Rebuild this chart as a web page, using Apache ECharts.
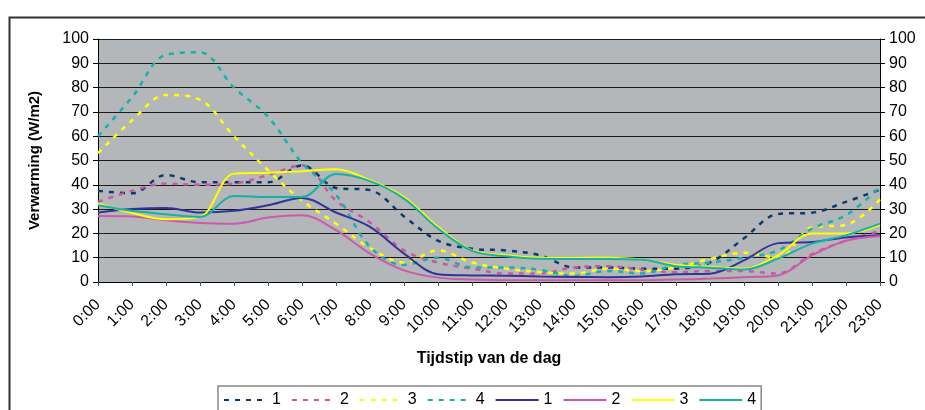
<!DOCTYPE html>
<html>
<head>
<meta charset="utf-8">
<script src="https://cdn.jsdelivr.net/npm/echarts@6/dist/echarts.min.js"></script>
<style>
  html, body { margin: 0; padding: 0; background: #fff; }
  #chart { width: 925px; height: 410px; }
</style>
</head>
<body>
<div id="chart"></div>
<script>
  // uren van de dag
  const hours = ["0:00", "1:00", "2:00", "3:00", "4:00", "5:00", "6:00", "7:00", "8:00", "9:00", "10:00", "11:00",
    "12:00", "13:00", "14:00", "15:00", "16:00", "17:00", "18:00", "19:00", "20:00", "21:00", "22:00", "23:00"];

  // gestippelde reeksen
  const dashed1 = [37.5, 36.5, 44, 41, 41, 41, 48, 38.7, 37.8, 27, 17, 13.7, 13, 11, 6, 6, 5.5, 5.5, 8, 18, 28, 28.5, 33, 38];
  const dashed2 = [33, 37.5, 40.5, 40, 40.5, 44, 48, 33.5, 24.5, 13, 8, 5.5, 3.5, 3.5, 6, 6.5, 5, 4, 4.5, 4.5, 3.5, 11.5, 17, 21];
  const dashed3 = [53, 66.5, 77, 75, 60, 46, 33.5, 24, 14, 8, 13, 8, 5.5, 4, 3.5, 5.5, 4.5, 6, 9.5, 12, 10, 22.5, 23.5, 34];
  const dashed4 = [60, 76, 93.5, 94.5, 80, 68, 49, 36, 14.5, 7, 10, 6, 6, 5, 2.5, 4.5, 3.5, 7, 8, 10, 13, 22, 27.5, 39];

  // doorgetrokken reeksen
  const solid1 = [28.6, 30, 30.5, 28.6, 29.3, 31.6, 34.6, 28.6, 22.7, 11.7, 3.2, 2.7, 2.6, 2.3, 2.1, 2, 2.3, 3.2, 3.4, 8.9, 16, 16.5, 18.3, 19.2];
  const solid2 = [27.2, 27, 25.4, 24.3, 24, 26.5, 27.5, 21.3, 11.7, 4.8, 1.8, 1, 0.7, 0.7, 0.7, 0.7, 0.7, 1, 1.4, 2, 2.7, 11, 17, 18.8];
  const solid3 = [32.3, 28.4, 25.8, 26.8, 44.6, 45, 45.6, 46.4, 41.9, 35, 22.7, 13, 11, 10, 9.9, 10, 9.2, 7.1, 6.2, 5.5, 11, 20, 20, 23.4];
  const solid4 = [31.6, 29.3, 27.9, 26.8, 35.4, 35, 35, 44.4, 41.5, 34.3, 22, 12.8, 10.6, 9.6, 9.5, 9.5, 9.2, 6.5, 5.9, 5.1, 9.6, 15.8, 19.2, 24];

  const font = "Liberation Sans, Arial, sans-serif";

  // reeks maken, naam krijgt prefix zodat de legenda ze uit elkaar houdt
  function makeSeries(name, data, color, dashed) {
    return {
      name: name,
      type: "line",
      data: data,
      smooth: 0.35,
      symbol: "none",
      itemStyle: { color: color },
      lineStyle: {
        color: color,
        width: dashed ? 2.5 : 2,
        type: dashed ? [5, 6] : "solid",
      },
    };
  }

  const chart = echarts.init(document.getElementById("chart"), null, { renderer: "canvas" });

  const option = {
    animation: false,
    backgroundColor: "#fff",
    textStyle: { fontFamily: font },
    graphic: [
      {
        type: "rect",
        left: 7,
        top: 15,
        shape: { width: 940, height: 420 },
        style: { fill: "none", stroke: "#333", lineWidth: 2 },
        z: -1,
      },
    ],
    grid: {
      left: 98,
      right: 45,
      top: 39,
      bottom: 128,
      show: true,
      backgroundColor: "#b4b7b9",
      borderWidth: 0,
    },
    legend: {
      left: 218,
      top: 386,
      padding: [6, 5],
      itemGap: 10,
      itemWidth: 43,
      itemHeight: 10,
      borderColor: "#888",
      borderWidth: 1.5,
      itemStyle: { opacity: 0 },
      textStyle: { color: "#000", fontSize: 16, fontFamily: font },
      formatter: (name) => name.slice(1),
      data: ["a1", "a2", "a3", "a4", "b1", "b2", "b3", "b4"],
    },
    xAxis: {
      type: "category",
      boundaryGap: false,
      data: hours,
      name: "Tijdstip van de dag",
      nameLocation: "middle",
      nameGap: 69,
      nameTextStyle: { fontSize: 16, fontWeight: "bold", color: "#000", fontFamily: font },
      axisLine: { lineStyle: { color: "#000", width: 1 } },
      axisTick: { show: true, length: 4, lineStyle: { color: "#555" } },
      axisLabel: { rotate: 45, fontSize: 16, color: "#000", margin: 20, interval: 0 },
      splitLine: { show: false },
    },
    yAxis: [
      {
        type: "value",
        min: 0,
        max: 100,
        interval: 10,
        name: "Verwarming (W/m2)",
        nameLocation: "middle",
        nameGap: 56,
        nameTextStyle: { fontSize: 15, fontWeight: "bold", color: "#000", fontFamily: font },
        axisLine: { show: true, lineStyle: { color: "#000" } },
        axisTick: { show: true, length: 5, lineStyle: { color: "#000" } },
        axisLabel: { fontSize: 16, color: "#000", margin: 9 },
        splitLine: { lineStyle: { color: "#1a1a1a", width: 1 } },
      },
      {
        type: "value",
        min: 0,
        max: 100,
        interval: 10,
        position: "right",
        axisLine: { show: true, lineStyle: { color: "#000" } },
        axisTick: { show: true, length: 5, lineStyle: { color: "#000" } },
        axisLabel: { fontSize: 16, color: "#000", margin: 9 },
        splitLine: { show: false },
      },
    ],
    series: [
      makeSeries("a1", dashed1, "#0b3a6e", true),
      makeSeries("a2", dashed2, "#cc55a6", true),
      makeSeries("a3", dashed3, "#ffff00", true),
      makeSeries("a4", dashed4, "#12b3aa", true),
      makeSeries("b1", solid1, "#33339a", false),
      makeSeries("b2", solid2, "#cc5aaa", false),
      makeSeries("b3", solid3, "#ffff00", false),
      makeSeries("b4", solid4, "#14b2a6", false),
    ],
  };

  chart.setOption(option);
</script>
</body>
</html>
